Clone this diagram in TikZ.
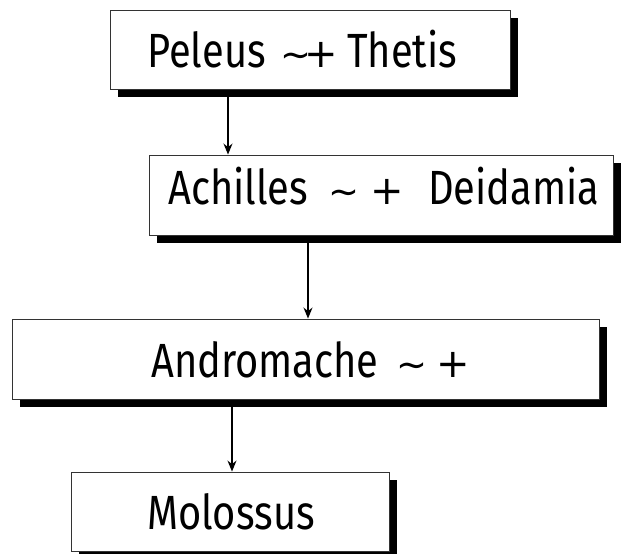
\documentclass[tikz,border=0pt]{standalone}
\usepackage{fontspec}
\setmainfont[FakeStretch=0.83]{Fira Sans}
\newfontfamily\famsym{DejaVu Sans}
\newcommand\famtilde{{\famsym\fontsize{37bp}{44bp}\selectfont ∼}}
\newcommand\famplus{{\famsym\fontsize{40bp}{48bp}\selectfont +}}
\usetikzlibrary{shadows,arrows.meta}
\tikzset{
  famblock/.style={draw=black!80, line width=0.9bp, fill=white, rectangle, inner sep=0pt,
    drop shadow={shadow xshift=8bp, shadow yshift=-8bp, fill=black, opacity=1}},
  famtext/.style={anchor=base west, inner sep=0pt, font=\fontsize{48bp}{56bp}\selectfont},
  famarrow/.style={-{Stealth[length=11bp,width=9bp]}, line width=1.4bp}
}
\begin{document}
\begin{tikzpicture}[x=1bp,y=-1bp]
\useasboundingbox (0,0) rectangle (621,554);
\node[famblock, minimum width=400bp, minimum height=79bp] (b1) at (310,49.5) {};
\node[famblock, minimum width=464bp, minimum height=80bp] (b2) at (381,195) {};
\node[famblock, minimum width=587bp, minimum height=80bp] (b3) at (305.5,359) {};
\node[famblock, minimum width=318bp, minimum height=79bp] (b4) at (230,511.5) {};
\node[famtext] (t1) at (147,68) {\makebox[133bp][l]{Peleus}\makebox[24bp][l]{\famtilde}\makebox[43bp][l]{\famplus}Thetis};
\node[famtext] (t2) at (168,205) {\makebox[160bp][l]{Achilles}\makebox[42bp][l]{\famtilde}\makebox[58bp][l]{\famplus}Deidamia};
\node[famtext] (t3) at (151,377) {\makebox[245bp][l]{Andromache}\makebox[40bp][l]{\famtilde}\famplus};
\node[famtext] (t4) at (147,529) {Molossus};
\coordinate (a1s) at (228,97);
\coordinate (a2s) at (308,243);
\coordinate (a3s) at (232,407);
\draw[famarrow] (a1s) -- (a1s |- b2.north);
\draw[famarrow] (a2s) -- (a2s |- b3.north);
\draw[famarrow] (a3s) -- (a3s |- b4.north);
\end{tikzpicture}
\end{document}
